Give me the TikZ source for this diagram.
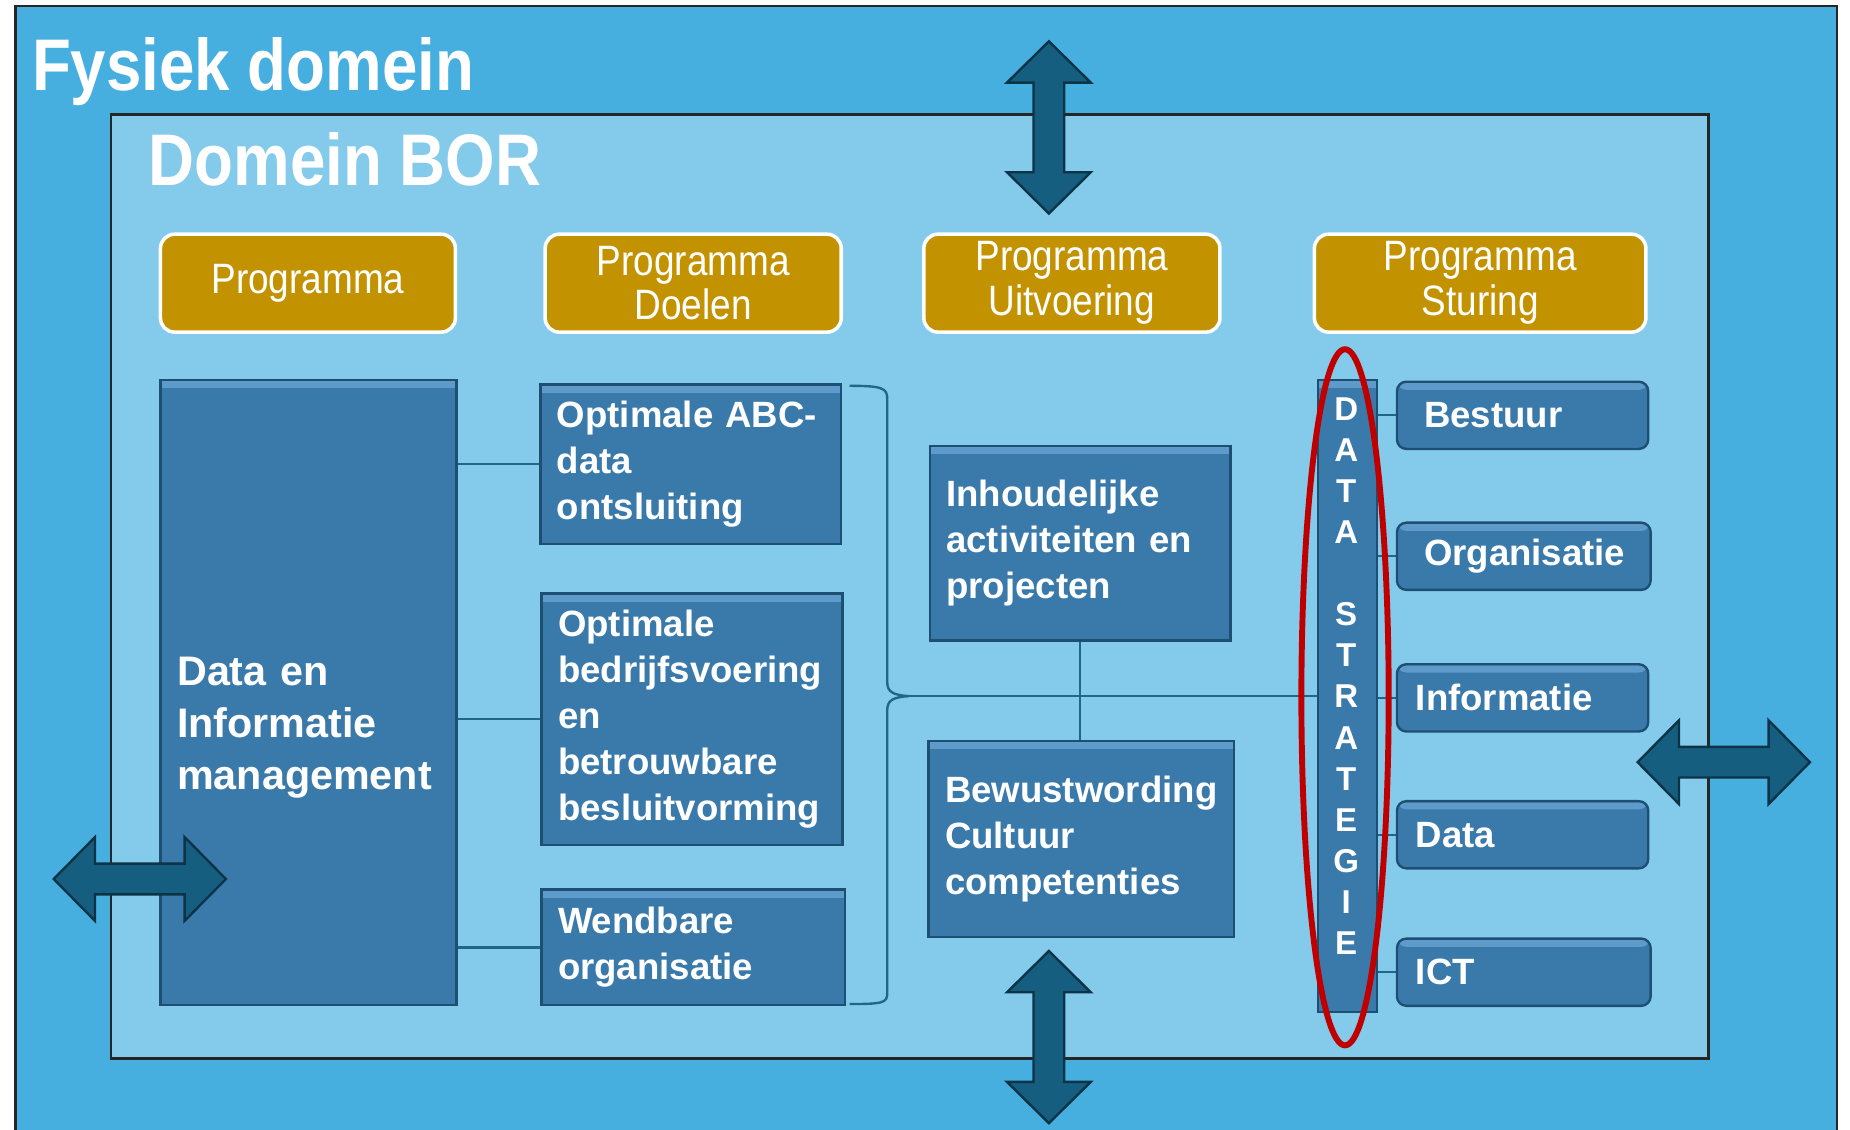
\documentclass[tikz,border=0pt]{standalone}
\usepackage{fontspec}
\setmainfont{Liberation Sans}
\newfontfamily\smalfont[FakeStretch=0.87]{Liberation Sans}
\definecolor{buitenblauw}{HTML}{47AFE0}
\definecolor{binnenblauw}{HTML}{84CAEB}
\definecolor{goud}{HTML}{C29200}
\definecolor{vakblauw}{HTML}{3A7AAB}
\definecolor{vaklicht}{HTML}{5E9BCB}
\definecolor{vakrand}{HTML}{1D4F73}
\definecolor{lijnkleur}{HTML}{1F6688}
\definecolor{pijlblauw}{HTML}{155E80}
\definecolor{pijlrand}{HTML}{0C3346}
\definecolor{rood}{HTML}{C00000}
\tikzset{
  titel/.style={anchor=base west,inner sep=0pt,text=white,font=\smalfont\bfseries\fontsize{62}{62}\selectfont},
  kop/.style={rounded corners=12pt,fill=goud,draw=white,line width=3pt,text=white,align=center,
    inner sep=0pt,minimum height=83pt,font=\smalfont\fontsize{36}{38}\selectfont},
  vak/.style={fill=vakblauw,draw=vakrand,line width=2pt,text=white,align=left,inner xsep=14pt,
    font=\bfseries\fontsize{31}{39}\selectfont,
    path picture={\fill[vaklicht] ([yshift=-1pt]path picture bounding box.north west) rectangle ([yshift=-7pt]path picture bounding box.north east);}},
  rond/.style={vak,rounded corners=8pt,inner xsep=16pt,minimum height=57pt,text width=181pt},
  lijn/.style={draw=lijnkleur,line width=2pt},
  pijl/.style={fill=pijlblauw,draw=pijlrand,line width=2pt,line join=miter},
  pics/dubbelpijl/.style={code={
    \draw[pijl] (-73,0) -- (-38,35.5) -- (-38,13) -- (38,13) -- (38,35.5) -- (73,0)
      -- (38,-35.5) -- (38,-13) -- (-38,-13) -- (-38,-35.5) -- cycle;}}
}
\begin{document}
\begin{tikzpicture}[x=1pt,y=-1pt]
  \useasboundingbox (0,0) rectangle (1568,957);
  % domeinen
  \draw[fill=buitenblauw,draw=black!85,line width=2pt] (13,5) rectangle (1557,975);
  \draw[fill=binnenblauw,draw=black!85,line width=2pt] (94,97) rectangle (1448,897);
  \node[titel] (fysiek) at (27,77) {Fysiek domein};
  \node[titel] (bor) at (126,157) {Domein BOR};
  % programma koppen
  \node[kop,minimum width=250pt] (prog) at (261,240) {Programma};
  \node[kop,minimum width=251pt] (doelen) at (587.5,240) {Programma\\Doelen};
  \node[kop,minimum width=251pt] (uitv) at (908.5,240) {Programma\\Uitvoering};
  \node[kop,minimum width=281pt] (sturing) at (1254.5,240) {Programma\\Sturing};
  % kolom programma
  \node[vak,minimum width=251pt,minimum height=530pt] (dim) at (261.5,587) {};
  \node[text=white,align=left,inner sep=0pt,text width=223pt,anchor=west,
    font=\bfseries\fontsize{35}{44}\selectfont] (dimtekst) at (150,617) {Data en\\Informatie\\management};
  % kolom doelen
  \node[vak,minimum width=255pt,minimum height=135pt,text width=227pt] (abc) at (585.5,393.5) {Optimale ABC-\\data\\ontsluiting};
  \node[vak,minimum width=255pt,minimum height=213pt,text width=227pt] (bedr) at (586.5,609.5) {Optimale\\bedrijfsvoering\\en\\betrouwbare\\besluitvorming};
  \node[vak,minimum width=257pt,minimum height=98pt,text width=229pt] (wend) at (587.5,803) {Wendbare\\organisatie};
  % kolom uitvoering
  \node[vak,minimum width=255pt,minimum height=165pt,text width=227pt] (inh) at (915.5,460.5) {Inhoudelijke\\activiteiten en\\projecten};
  \node[vak,minimum width=259pt,minimum height=166pt,text width=231pt] (bew) at (916.5,711) {Bewustwording\\Cultuur\\competenties};
  % kolom sturing
  \node[vak,minimum width=50pt,minimum height=536pt,inner sep=0pt] (bar) at (1142,590) {};
  \node[text=white,align=center,inner sep=0pt,font=\bfseries\fontsize{28}{34.8}\selectfont] (datastrat) at (1141,573)
    {D\\A\\T\\A\\[34.8pt]S\\T\\R\\A\\T\\E\\G\\I\\E};
  \node[rond,inner xsep=23pt,text width=167pt] (bestuur) at (1290.5,352) {Bestuur};
  \node[rond,inner xsep=23pt,text width=169pt] (organisatie) at (1291.5,471.5) {Organisatie};
  \node[rond] (informatie) at (1290.5,591.5) {Informatie};
  \node[rond] (data) at (1290.5,707.5) {Data};
  \node[rond,text width=183pt] (ict) at (1291.5,824) {ICT};
  % verbindingen
  \foreach \n in {abc,bedr,wend}
    \draw[lijn] (dim.east |- \n.west) -- (\n.west);
  \coordinate (punt) at (770,590);
  \draw[lijn] (720,327) .. controls (748,327) and (752,329) .. (752,338) -- (752,578)
    .. controls (752,586) and (756,589) .. (punt);
  \draw[lijn] (punt) .. controls (756,591) and (752,594) .. (752,602) -- (752,842)
    .. controls (752,850) and (748,851) .. (720,851);
  \draw[lijn] (punt) -- (bar.west);
  \draw[lijn] (inh.south) -- (inh.south |- bew.north);
  \foreach \n in {bestuur,organisatie,informatie,data,ict}
    \draw[lijn] (bar.east |- \n.west) -- (\n.west);
  \draw[rood,line width=5pt] (1140,591) ellipse [x radius=37,y radius=295];
  % pijlen
  \pic[rotate=90] at (889,108) {dubbelpijl};
  \pic[rotate=90] at (889,879) {dubbelpijl};
  \pic at (118.5,745) {dubbelpijl};
  \pic at (1461,646) {dubbelpijl};
\end{tikzpicture}
\end{document}
